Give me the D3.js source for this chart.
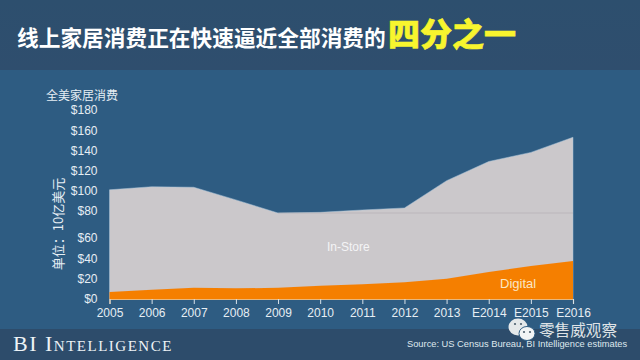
<!DOCTYPE html>
<html>
<head>
<meta charset="utf-8">
<script src="https://cdn.jsdelivr.net/npm/d3@7"></script>
<style>
  html, body { margin: 0; padding: 0; background: #2e5c82; }
  svg { display: block; }
  .tick text { font-family: "Liberation Sans", sans-serif; font-size: 12px; fill: #e6eef4; }
</style>
</head>
<body>
<div id="chart"></div>
<script>
const years = ['2005','2006','2007','2008','2009','2010','2011','2012','2013','E2014','E2015','E2016'];
const digital = [7, 9, 11, 10.5, 11, 13, 14.5, 16.5, 20, 26.5, 32.5, 37.5];
const total = [101, 104, 103.5, 91, 78.5, 79, 81, 83, 110, 129, 138, 153];
const yLabels = [0, 20, 40, 60, 80, 100, 120, 140, 160, 180];
const gridValue = 78.5;

const width = 640;
const height = 360;

const svg = d3.select('#chart').append('svg')
  .attr('width', width)
  .attr('height', height);

const defs = svg.append('defs');
const headGrad = defs.append('linearGradient')
  .attr('id', 'head-grad')
  .attr('x1', 0).attr('x2', 0).attr('y1', 0).attr('y2', 1);
headGrad.append('stop').attr('offset', 0).attr('stop-color', '#2d4f6e');
headGrad.append('stop').attr('offset', 1).attr('stop-color', '#2f4e6e');
defs.append('filter').attr('id', 'soft')
  .append('feGaussianBlur').attr('stdDeviation', 0.35);

// bands
svg.append('rect').attr('width', width).attr('height', height).attr('fill', '#2e5c82');
svg.append('rect').attr('width', width).attr('height', 70).attr('fill', 'url(#head-grad)');
svg.append('rect').attr('y', 329).attr('width', width).attr('height', 31).attr('fill', '#2d4c6b');

const xScale = d3.scalePoint().domain(years).range([109.5, 573]);
// the printed labels are not evenly spaced below $80, so the scale has breaks
const yScale = d3.scaleLinear()
  .domain([0, 60, 80, 180])
  .range([299, 238, 211, 110]);

const plot = svg.append('g').attr('filter', 'url(#soft)');

const rows = years.map((d, i) => ({ year: d, digital: digital[i], total: total[i] }));

const area = d3.area()
  .x(d => xScale(d.year))
  .y0(yScale(0));

plot.append('path')
  .datum(rows)
  .attr('fill', '#cbc8cb')
  .attr('stroke', '#a9c4da')
  .attr('stroke-width', 0.5)
  .attr('d', area.y1(d => yScale(d.total)));

// only shows from the 2009 dip onwards in the original
plot.append('line')
  .attr('x1', xScale('2009')).attr('x2', xScale.range()[1])
  .attr('y1', yScale(gridValue)).attr('y2', yScale(gridValue))
  .attr('stroke', '#aeabae')
  .attr('stroke-width', 0.6);

plot.append('path')
  .datum(rows)
  .attr('fill', '#f57f06')
  .attr('d', area.y1(d => yScale(d.digital)));

// axes
const xAxis = d3.axisBottom(xScale).tickSize(5).tickPadding(4);
const xAxisG = svg.append('g')
  .attr('transform', `translate(0, ${yScale(0)})`)
  .call(xAxis);
xAxisG.selectAll('.domain').attr('stroke', '#e8b77c').attr('stroke-width', 1.2);
xAxisG.selectAll('line').attr('stroke', '#d8e2ea');

const yAxis = d3.axisLeft(yScale)
  .tickValues(yLabels)
  .tickFormat(d => '$' + d)
  .tickSize(0)
  .tickPadding(12);
const yAxisG = svg.append('g')
  .attr('transform', 'translate(109.5, 0)')
  .call(yAxis);
yAxisG.selectAll('.domain').remove();

const cjk = '"Noto Sans CJK SC", sans-serif';
const latin = '"Liberation Sans", sans-serif';

// title
svg.append('text')
  .attr('x', 17)
  .attr('y', 46)
  .attr('font-family', cjk)
  .attr('font-weight', 700)
  .attr('font-size', 21.7)
  .attr('fill', '#ffffff')
  .text('线上家居消费正在快速逼近全部消费的');
svg.append('text')
  .attr('x', 388)
  .attr('y', 46)
  .attr('font-family', cjk)
  .attr('font-weight', 900)
  .attr('font-size', 32)
  .attr('fill', '#f8f52e')
  .attr('stroke', '#f8f52e')
  .attr('stroke-width', 0.6)
  .text('四分之一');

// axis captions
svg.append('text')
  .attr('x', 46)
  .attr('y', 100)
  .attr('font-family', cjk)
  .attr('font-size', 12)
  .attr('fill', '#e6eef4')
  .text('全美家居消费');

svg.append('text')
  .attr('transform', 'translate(63, 224) rotate(-90)')
  .attr('text-anchor', 'middle')
  .attr('font-family', cjk)
  .attr('font-size', 13)
  .attr('fill', '#e6eef4')
  .text('单位：10亿美元');

// series labels
svg.append('text')
  .attr('x', 327)
  .attr('y', 251)
  .attr('font-family', latin)
  .attr('font-size', 12)
  .attr('fill', '#f4f4f6')
  .text('In-Store');
svg.append('text')
  .attr('x', 500)
  .attr('y', 288)
  .attr('font-family', latin)
  .attr('font-size', 13)
  .attr('fill', '#fbe6c4')
  .text('Digital');

// footer
svg.append('text')
  .attr('x', 13)
  .attr('y', 351)
  .attr('font-family', '"Liberation Serif", serif')
  .attr('font-size', 22)
  .attr('letter-spacing', 1.5)
  .attr('fill', '#eef3f6')
  .style('font-variant', 'small-caps')
  .text('BI Intelligence');

svg.append('text')
  .attr('x', 407)
  .attr('y', 347)
  .attr('font-family', latin)
  .attr('font-size', 9.3)
  .attr('fill', '#dfe8ee')
  .text('Source: US Census Bureau, BI Intelligence  estimates');

// watermark
const mark = svg.append('g');
mark.append('ellipse').attr('cx', 518).attr('cy', 327).attr('rx', 9.5).attr('ry', 8.5).attr('fill', '#e4e8ea');
mark.append('ellipse').attr('cx', 527).attr('cy', 333.5).attr('rx', 8).attr('ry', 7).attr('fill', '#f2f4f5').attr('stroke', '#2e5c82').attr('stroke-width', 1);
[[515, 324], [521, 324], [524, 332], [530, 332]].forEach(p => {
  mark.append('circle').attr('cx', p[0]).attr('cy', p[1]).attr('r', 1.1).attr('fill', '#4d5f6e');
});
svg.append('text')
  .attr('x', 539)
  .attr('y', 336)
  .attr('font-family', cjk)
  .attr('font-size', 15.6)
  .attr('fill', '#dfe3e6')
  .text('零售威观察');
</script>
</body>
</html>
